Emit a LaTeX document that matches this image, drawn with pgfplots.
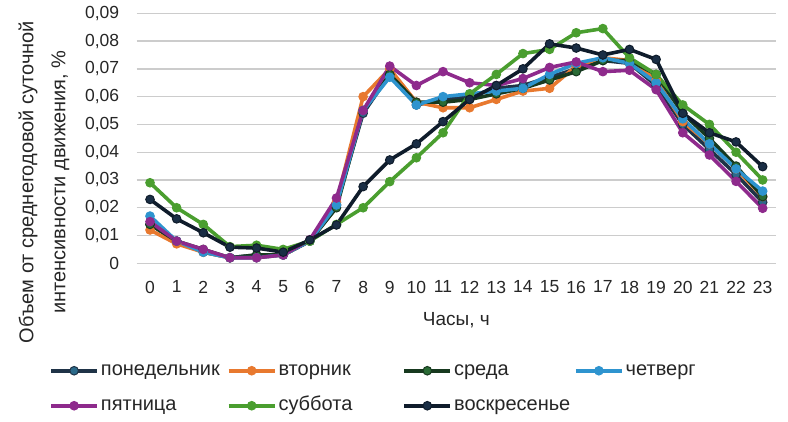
\documentclass[border=0pt]{standalone}
\usepackage{fontspec}
\setmainfont{Liberation Sans}
\usepackage{pgfplots}
\usepackage{pgfplotstable}
\pgfplotsset{compat=1.18}
\definecolor{cmon}{HTML}{1F3347}
\definecolor{cmonm}{HTML}{2B6A8A}
\definecolor{ctue}{HTML}{E8792F}
\definecolor{cwed}{HTML}{17391F}
\definecolor{cwedm}{HTML}{2A6B35}
\definecolor{cthu}{HTML}{2E94CF}
\definecolor{cfri}{HTML}{8E2A8C}
\definecolor{csat}{HTML}{4A9E2F}
\definecolor{csun}{HTML}{0F1C2B}
\definecolor{csunm}{HTML}{1A2E45}
\pgfplotstableread{
h mon tue wed thu fri sat sun
0 0.014 0.012 0.014 0.017 0.015 0.029 0.023
1 0.008 0.007 0.008 0.008 0.008 0.020 0.016
2 0.004 0.004 0.005 0.004 0.005 0.014 0.011
3 0.002 0.002 0.002 0.002 0.002 0.006 0.0058
4 0.003 0.002 0.003 0.002 0.002 0.0065 0.0055
5 0.003 0.003 0.003 0.003 0.003 0.005 0.004
6 0.008 0.008 0.008 0.008 0.0085 0.008 0.0084
7 0.021 0.022 0.020 0.021 0.0235 0.014 0.0138
8 0.054 0.060 0.055 0.055 0.055 0.020 0.0276
9 0.068 0.070 0.068 0.067 0.071 0.0294 0.0372
10 0.057 0.058 0.058 0.057 0.064 0.038 0.043
11 0.059 0.056 0.058 0.060 0.069 0.047 0.051
12 0.060 0.056 0.059 0.061 0.065 0.061 0.059
13 0.063 0.059 0.061 0.062 0.064 0.068 0.064
14 0.064 0.062 0.063 0.063 0.0665 0.0755 0.070
15 0.067 0.063 0.066 0.068 0.0705 0.077 0.079
16 0.070 0.071 0.069 0.072 0.0725 0.083 0.0775
17 0.073 0.074 0.073 0.074 0.069 0.0845 0.075
18 0.072 0.073 0.073 0.072 0.0695 0.074 0.077
19 0.064 0.066 0.068 0.065 0.0625 0.068 0.0734
20 0.050 0.051 0.054 0.052 0.047 0.057 0.054
21 0.041 0.043 0.045 0.043 0.039 0.050 0.047
22 0.032 0.034 0.035 0.034 0.0295 0.040 0.0437
23 0.022 0.024 0.024 0.026 0.0198 0.030 0.0348
}\datatable
\newcommand{\lbox}[2]{\makebox[#1bp][l]{\hspace{2bp}#2}}
\begin{document}
\begin{tikzpicture}
\useasboundingbox (0,0) rectangle (788bp,422bp);
\begin{axis}[
  at={(136.7bp,158.7bp)}, anchor=south west,
  width=639.3bp, height=250bp, scale only axis,
  xmin=-0.5, xmax=23.5, ymin=0, ymax=0.09,
  xtick={0,...,23}, ytick={0,0.01,...,0.09},
  scaled y ticks=false,
  yticklabels={0,{0,01},{0,02},{0,03},{0,04},{0,05},{0,06},{0,07},{0,08},{0,09}},
  /pgf/number format/assume math mode=true,
  axis line style={draw=none},
  major tick length=0pt,
  ymajorgrids,
  grid style={color=black!20, line width=1.3bp},
  tick label style={font=\fontsize{17.5bp}{19bp}\selectfont, text=black!85},
  yticklabel style={xshift=-14bp},
  xticklabel style={yshift=-14bp},
  xlabel={Часы, ч},
  xlabel style={font=\fontsize{19bp}{21bp}\selectfont, yshift=-12bp, text=black!85},
  ylabel={Объем от среднегодовой суточной\\интенсивности движения, \%},
  every axis y label/.style={at={(axis description cs:-0.145,0.325)}, rotate=90, anchor=center, align=center,
    font=\fontsize{20bp}{32bp}\selectfont, text=black!85},
  legend columns=4,
  legend style={at={(axis description cs:-0.137,-0.393)}, anchor=north west, draw=none,
    fill=none, inner sep=0pt, column sep=0bp, row sep=17bp,
    font=\fontsize{20bp}{22bp}\selectfont,
    nodes={inner sep=0pt, anchor=west, text height=14bp, text depth=4bp, text=black!85}},
  legend cell align=left,
  legend image code/.code={\draw[mark repeat=2,mark phase=2,#1] plot coordinates {(0bp,0bp) (23bp,0bp) (46bp,0bp)};},
  every axis plot/.append style={line width=3.6bp, mark=*, mark size=4.3bp},
  clip=false,
]
\addplot[color=cmon, mark options={fill=cmonm, draw=cmon, line width=1bp}] table[x=h,y=mon]{\datatable};
\addlegendentry{\lbox{128}{понедельник}}
\addplot[color=ctue, mark options={fill=ctue, draw=ctue, line width=1bp}] table[x=h,y=tue]{\datatable};
\addlegendentry{\lbox{126}{вторник}}
\addplot[color=cwed, mark options={fill=cwedm, draw=cwed, line width=1bp}] table[x=h,y=wed]{\datatable};
\addlegendentry{\lbox{122}{среда}}
\addplot[color=cthu, mark options={fill=cthu, draw=cthu, line width=1bp}] table[x=h,y=thu]{\datatable};
\addlegendentry{\lbox{100}{четверг}}
\addplot[color=cfri, mark options={fill=cfri, draw=cfri, line width=1bp}] table[x=h,y=fri]{\datatable};
\addlegendentry{\lbox{128}{пятница}}
\addplot[color=csat, mark options={fill=csat, draw=csat, line width=1bp}] table[x=h,y=sat]{\datatable};
\addlegendentry{\lbox{126}{суббота}}
\addplot[color=csun, mark options={fill=csunm, draw=csun, line width=1bp}] table[x=h,y=sun]{\datatable};
\addlegendentry{\lbox{122}{воскресенье}}
\end{axis}
\end{tikzpicture}
\end{document}
